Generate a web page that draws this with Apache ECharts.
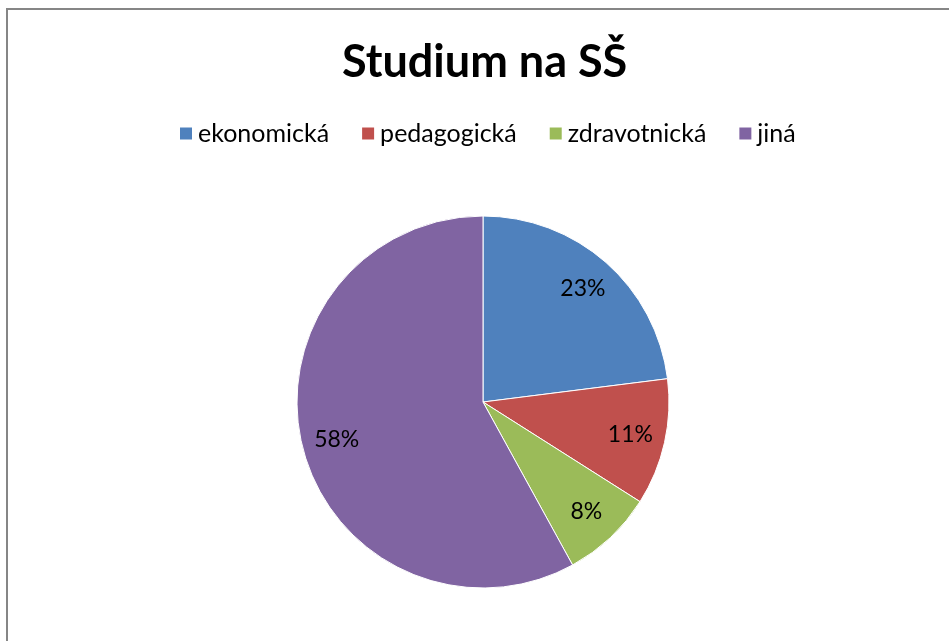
<!DOCTYPE html>
<html>
<head>
<meta charset="utf-8">
<script src="https://cdn.jsdelivr.net/npm/echarts@6/dist/echarts.min.js"></script>
<style>
  html, body { margin: 0; padding: 0; background: #fff; }
  #chartBox { width: 949px; height: 641px; }
</style>
</head>
<body>
<div id="chartBox"></div>
<script>
const categories = ["ekonomická", "pedagogická", "zdravotnická", "jiná"];
const values = [23, 11, 8, 58];
const colors = ["#4F81BD", "#C0504D", "#9BBB59", "#8064A2"];

const chartDom = document.getElementById("chartBox");
const myChart = echarts.init(chartDom);
const font = "Lato, 'Open Sans', sans-serif";

const pieData = categories.map((name, i) => ({
  name: name,
  value: values[i],
  itemStyle: { color: colors[i] },
}));

const option = {
  animation: false,
  title: {
    text: "Studium na SŠ",
    left: 337,
    top: 35,
    textStyle: { fontFamily: font, fontSize: 45, fontWeight: "bold", color: "#000" },
  },
  legend: {
    top: 116,
    left: 173,
    itemWidth: 14,
    itemHeight: 14,
    itemGap: 31,
    icon: "rect",
    data: categories,
    textStyle: { fontFamily: font, fontSize: 25, color: "#000" },
  },
  graphic: [
    {
      type: "rect",
      shape: { x: 7, y: 9, width: 1000, height: 1000 },
      style: { fill: "none", stroke: "#868686", lineWidth: 2 },
      silent: true,
    },
  ],
  series: [
    {
      type: "pie",
      center: [483, 402],
      radius: [0, 186],
      startAngle: 90,
      clockwise: true,
      label: { show: false },
      labelLine: { show: false },
      itemStyle: { borderColor: "#fff", borderWidth: 1 },
      emphasis: { disabled: true },
      data: pieData,
    },
    {
      type: "pie",
      center: [483, 402],
      radius: [110, 186],
      startAngle: 90,
      clockwise: true,
      silent: true,
      itemStyle: { color: "rgba(0,0,0,0)" },
      label: {
        show: true,
        position: "inside",
        formatter: "{c}%",
        fontFamily: font,
        fontSize: 23,
        color: "#000",
      },
      labelLine: { show: false },
      data: categories.map((name, i) => ({ name: name, value: values[i], itemStyle: { color: "rgba(0,0,0,0)" } })),
    },
  ],
};

option && myChart.setOption(option);
</script>
</body>
</html>
